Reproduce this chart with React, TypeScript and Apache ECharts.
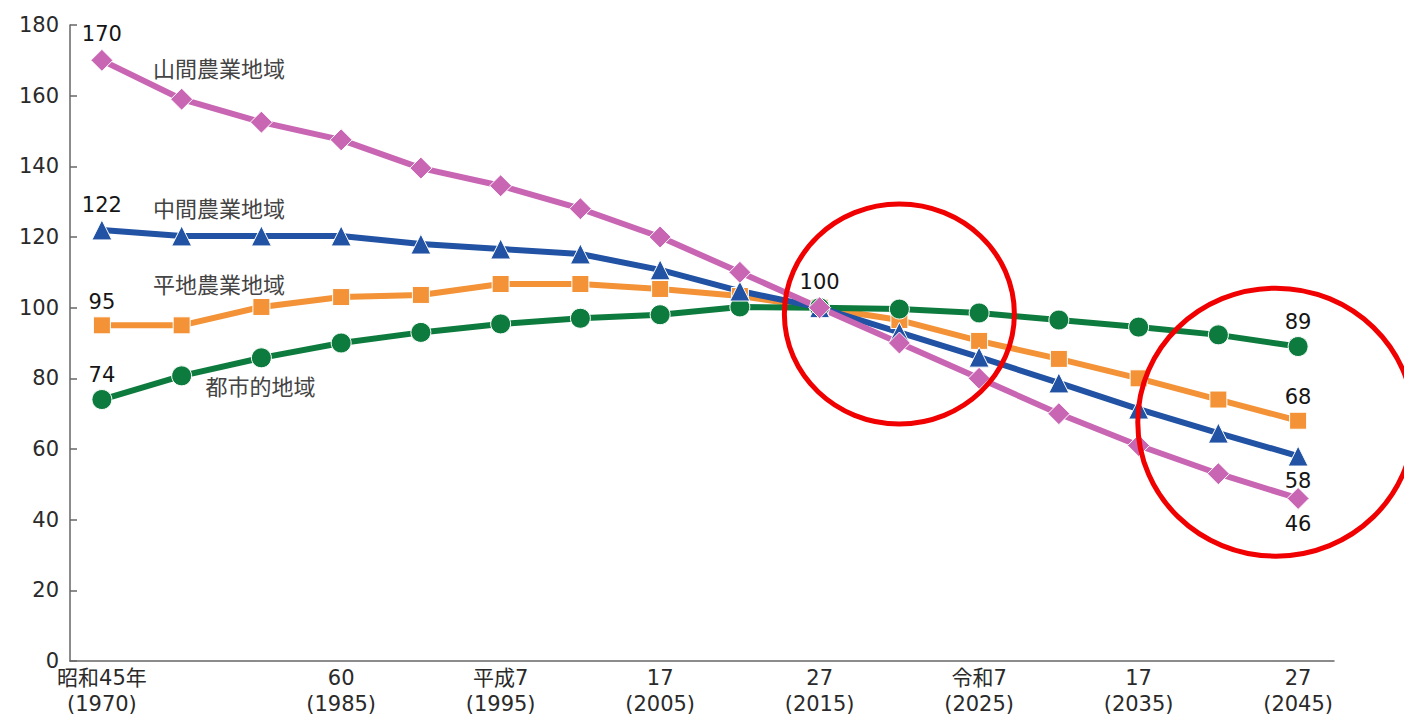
import React, { useEffect, useRef } from "react";
import * as echarts from "echarts";

const years = [1970, 1975, 1980, 1985, 1990, 1995, 2000, 2005, 2010, 2015, 2020, 2025, 2030, 2035, 2040, 2045];
const sankan = [170, 159, 152.5, 147.5, 139.5, 134.5, 128, 120, 110, 100, 90, 80, 70, 61, 53, 46];
const chukan = [122, 120.3, 120.3, 120.3, 118, 116.6, 115.2, 110.7, 104.7, 100, 93, 86, 78.7, 71.3, 64.5, 58];
const heichi = [95, 95, 100.2, 103, 103.6, 106.7, 106.7, 105.3, 103.3, 100, 96.5, 90.6, 85.5, 80, 74, 68];
const toshi = [74, 80.7, 85.8, 90, 93, 95.4, 97, 98, 100.2, 100, 99.6, 98.5, 96.5, 94.5, 92.3, 89];

const labelYears = [1970, 1985, 1995, 2005, 2015, 2025, 2035, 2045];
const labelTexts = ["昭和45年\n(1970)", "60\n(1985)", "平成7\n(1995)", "17\n(2005)", "27\n(2015)", "令和7\n(2025)", "17\n(2035)", "27\n(2045)"];

const seriesNames = ["山間農業地域", "中間農業地域", "平地農業地域", "都市的地域"];
// anchor positions (data coords) for the in-plot series names
const nameAnchors: [number, number][] = [[1973.2, 168], [1973.2, 128.5], [1973.2, 107], [1976.5, 78]];

const FONT = "'DejaVu Sans', 'Noto Sans CJK JP', sans-serif";
const CJK = "'Noto Sans CJK JP', sans-serif";
const TXT = "#2a2a2a";

export default function App() {
  const ref = useRef<HTMLDivElement>(null);
  useEffect(() => {
    if (!ref.current) return;
    const chart = echarts.init(ref.current, undefined, { renderer: "svg" });

    const mk = (vals: number[]) => vals.map((v, i) => [years[i], v]);
    const lab = (pos: string) => ({
      show: true,
      position: pos,
      distance: 4,
      fontSize: 21,
      fontFamily: FONT,
      fontWeight: 500,
      color: "#151515",
      formatter: (p: any) => String(Math.round(p.value[1])),
    });
    const withLabels = (vals: number[], idxPos: Record<number, string>) =>
      mk(vals).map((d, i) =>
        idxPos[i] ? { value: d, label: lab(idxPos[i]) } : { value: d }
      );

    const common = {
      type: "line",
      lineStyle: { width: 6 },
      itemStyle: { borderColor: "#fff", borderWidth: 1 },
      label: { show: false },
      z: 2,
    };

    chart.setOption({
      animation: false,
      backgroundColor: "#fff",
      grid: { left: 70, right: 70, top: 25, bottom: 57 },
      xAxis: {
        type: "value",
        min: 1968,
        max: 2047.25,
        splitLine: { show: false },
        axisTick: { show: false },
        axisLine: { lineStyle: { color: "#666", width: 1.5 } },
        axisLabel: {
          customValues: labelYears,
          formatter: (v: number) => labelTexts[labelYears.indexOf(v)] ?? "",
          fontSize: 21,
          lineHeight: 26,
          fontFamily: FONT,
          color: TXT,
          margin: 4,
        },
      },
      yAxis: {
        type: "value",
        min: 0,
        max: 180,
        interval: 20,
        splitLine: { show: false },
        axisLine: { show: true, lineStyle: { color: "#666", width: 1.5 } },
        axisTick: { show: true, inside: true, length: 7, lineStyle: { color: "#666", width: 1.5 } },
        axisLabel: { fontSize: 21, fontFamily: FONT, color: TXT, margin: 11 },
      },
      series: [
        {
          ...common,
          name: seriesNames[2],
          data: withLabels(heichi, { 0: "top", 15: "top" }),
          color: "#F39236",
          symbol: "rect",
          symbolSize: 17,
        },
        {
          ...common,
          name: seriesNames[3],
          data: withLabels(toshi, { 0: "top", 15: "top" }),
          color: "#0E7B3E",
          symbol: "circle",
          symbolSize: 20,
        },
        {
          ...common,
          name: seriesNames[1],
          data: withLabels(chukan, { 0: "top", 15: "bottom" }),
          color: "#2152A3",
          symbol: "triangle",
          symbolSize: 20,
        },
        {
          ...common,
          name: seriesNames[0],
          data: withLabels(sankan, { 0: "top", 9: "top", 15: "bottom" }),
          color: "#C966B3",
          symbol: "diamond",
          symbolSize: 22,
        },
      ],
    });

    const graphics: any[] = [];
    nameAnchors.forEach((a, i) => {
      const p = chart.convertToPixel({ gridIndex: 0 }, a) as number[];
      graphics.push({
        type: "text",
        x: p[0],
        y: p[1],
        style: { text: seriesNames[i], fontSize: 22, fontFamily: CJK, fill: "#444", verticalAlign: "middle" },
      });
    });
    const circles: [number, number, number, number][] = [
      [2020, 98.2, 115, 110],
      [2043.6, 67.6, 138, 134],
    ];
    circles.forEach((c) => {
      const p = chart.convertToPixel({ gridIndex: 0 }, [c[0], c[1]]) as number[];
      graphics.push({
        type: "ellipse",
        shape: { cx: p[0], cy: p[1], rx: c[2], ry: c[3] },
        style: { fill: "none", stroke: "#F00000", lineWidth: 5 },
        z: 100,
      });
    });
    chart.setOption({ graphic: graphics });

    return () => chart.dispose();
  }, []);
  return (
    <div
      ref={ref}
      style={{ position: "absolute", left: 0, top: 0, width: 1404, height: 718 }}
    />
  );
}
